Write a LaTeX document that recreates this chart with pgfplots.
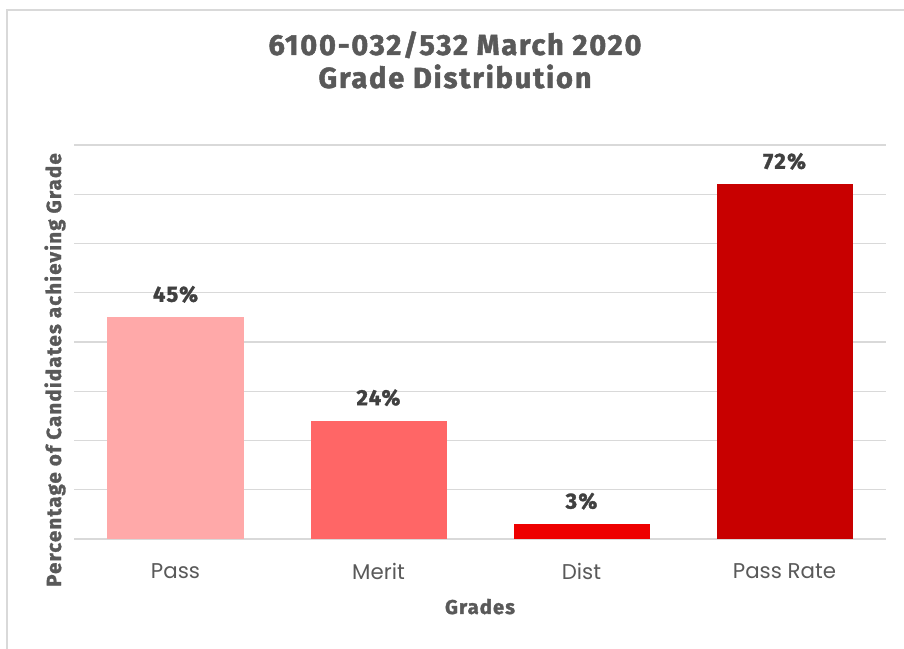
\documentclass[border=0pt]{standalone}
\usepackage{fontspec}
\usepackage{pgfplots}
\pgfplotsset{compat=1.18}
\setmainfont{Poppins}
\newfontfamily\titlefont[LetterSpace=6, FakeBold=1.6]{Fira Sans Bold}
\definecolor{txtgray}{HTML}{595959}
\definecolor{lblgray}{HTML}{404040}
\definecolor{gridgray}{HTML}{D9D9D9}
\definecolor{cPass}{HTML}{FFA9A9}
\definecolor{cMerit}{HTML}{FF6666}
\definecolor{cDist}{HTML}{EE0000}
\definecolor{cRate}{HTML}{C80000}
\begin{document}
\begin{tikzpicture}
\useasboundingbox (0,0) rectangle (678pt,486.75pt);
\draw[gridgray, line width=1.5pt] (5.6pt,0) -- (5.6pt,478.9pt) -- (678pt,478.9pt);
\begin{axis}[
  at={(55.5pt,82.5pt)}, anchor=south west,
  scale only axis, width=609pt, height=295.5pt,
  xmin=-0.5, xmax=3.5, ymin=0, ymax=80,
  axis line style={draw=none},
  ytick={0,10,...,80}, yticklabels={},
  ymajorgrids, grid style={gridgray, line width=1.1pt},
  major tick length=0pt,
  xtick={0,1,2,3}, xticklabels={Pass,Merit,Dist,Pass Rate},
  xticklabel style={font=\fontsize{16}{18}\selectfont, text=txtgray, yshift=-15pt},
  ybar, bar width=102pt, bar shift=0pt,
  /pgf/number format/assume math mode=true,
  nodes near coords={\pgfmathprintnumber{\pgfplotspointmeta}\%},
  nodes near coords style={font=\titlefont\fontsize{16.5}{18}\selectfont, text=lblgray, anchor=south, yshift=7.5pt},
  clip=false,
]
\addplot[fill=cPass, draw=none] coordinates {(0,45)};
\addplot[fill=cMerit, draw=none] coordinates {(1,24)};
\addplot[fill=cDist, draw=none] coordinates {(2,3)};
\addplot[fill=cRate, draw=none] coordinates {(3,72)};
\end{axis}
\node[font=\titlefont\fontsize{21.8}{24}\selectfont, text=txtgray, anchor=base] at (341.25pt,445.5pt) {6100-032/532 March 2020};
\node[font=\titlefont\fontsize{21.8}{24}\selectfont, text=txtgray, anchor=base] at (341.25pt,420.75pt) {Grade Distribution};
\node[font=\titlefont\fontsize{15}{18}\selectfont, text=txtgray, anchor=base] at (360pt,26.25pt) {Grades};
\node[font=\titlefont\fontsize{15.3}{18}\selectfont, text=txtgray, rotate=90] at (41.25pt,209.25pt) {Percentage of Candidates achieving Grade};
\end{tikzpicture}
\end{document}
